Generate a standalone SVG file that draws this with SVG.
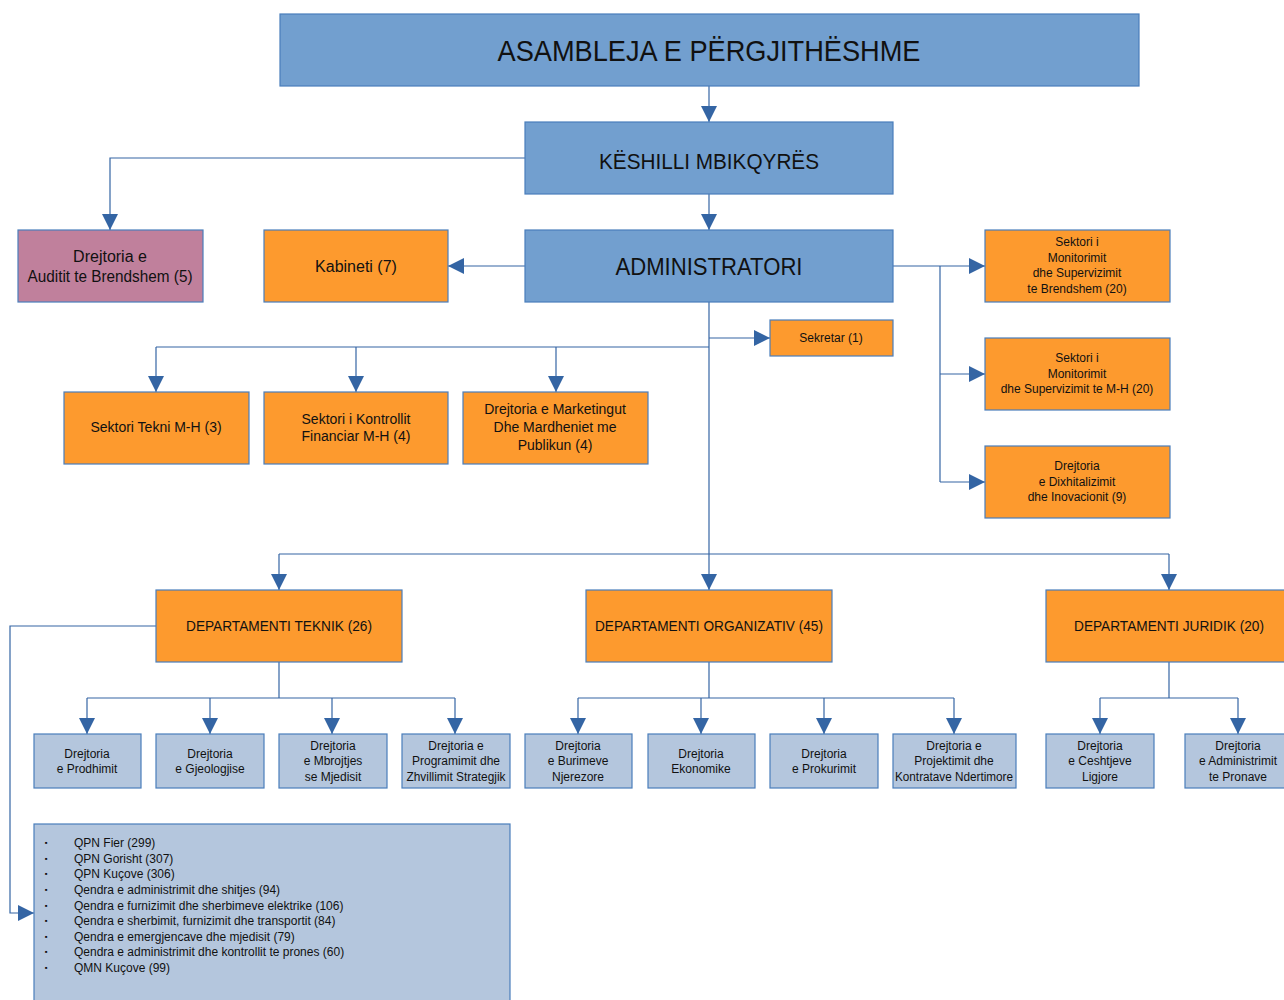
<svg xmlns="http://www.w3.org/2000/svg" width="1284" height="1000" viewBox="0 0 1284 1000">
<defs>
<marker id="ah" markerUnits="userSpaceOnUse" markerWidth="16" markerHeight="16" viewBox="0 0 16 16" refX="16" refY="8" orient="auto">
<path d="M0,0 L16,8 L0,16 Z" fill="#3465a4"/>
</marker>
</defs>
<style>
text{font-family:"Liberation Sans",Arial,sans-serif;fill:#111;text-anchor:middle}
.blue{fill:#729fcf;stroke:#4a7ebb;stroke-width:1.2}
.org{fill:#fd9a2e;stroke:#4a7ebb;stroke-width:1.2}
.pink{fill:#c0809c;stroke:#4a7ebb;stroke-width:1.2}
.lb{fill:#b4c6dd;stroke:#4a7ebb;stroke-width:1.2}
.c line,.c polyline{stroke:#3465a4;stroke-width:1.2;fill:none}
.a{marker-end:url(#ah)}
.t12{font-size:12px}.t14{font-size:14px}.t16{font-size:16px}
.li{font-size:12px;text-anchor:start}
.bu{font-size:4px;text-anchor:start}
</style>
<rect width="1284" height="1000" fill="#fff"/>
<g class="c">
<line class="a" x1="709" y1="86" x2="709" y2="122"/>
<polyline class="a" points="525,158 110,158 110,230"/>
<line class="a" x1="709" y1="194" x2="709" y2="230"/>
<line class="a" x1="525" y1="266" x2="448" y2="266"/>
<line class="a" x1="893" y1="266" x2="985" y2="266"/>
<polyline points="940,266 940,482"/>
<line class="a" x1="940" y1="374" x2="985" y2="374"/>
<line class="a" x1="940" y1="482" x2="985" y2="482"/>
<line class="a" x1="709" y1="302" x2="709" y2="590"/>
<line class="a" x1="709" y1="338" x2="770" y2="338"/>
<polyline points="709,347 156,347"/>
<line class="a" x1="156" y1="347" x2="156" y2="392"/>
<line class="a" x1="356" y1="347" x2="356" y2="392"/>
<line class="a" x1="556" y1="347" x2="556" y2="392"/>
<polyline points="279,554 1169,554"/>
<line class="a" x1="279" y1="554" x2="279" y2="590"/>
<line class="a" x1="1169" y1="554" x2="1169" y2="590"/>
<polyline points="279,662 279,698"/>
<polyline points="87,698 455,698"/>
<line class="a" x1="87" y1="698" x2="87" y2="734"/>
<line class="a" x1="210" y1="698" x2="210" y2="734"/>
<line class="a" x1="332" y1="698" x2="332" y2="734"/>
<line class="a" x1="455" y1="698" x2="455" y2="734"/>
<polyline points="709,662 709,698"/>
<polyline points="578,698 954,698"/>
<line class="a" x1="578" y1="698" x2="578" y2="734"/>
<line class="a" x1="701" y1="698" x2="701" y2="734"/>
<line class="a" x1="824" y1="698" x2="824" y2="734"/>
<line class="a" x1="954" y1="698" x2="954" y2="734"/>
<polyline points="1169,662 1169,698"/>
<polyline points="1100,698 1238,698"/>
<line class="a" x1="1100" y1="698" x2="1100" y2="734"/>
<line class="a" x1="1238" y1="698" x2="1238" y2="734"/>
<polyline class="a" points="156,626 10,626 10,913 34,913"/>
</g>
<g id="asambleja"><rect class="blue" x="280" y="14" width="859" height="72"/><text x="709" y="61" style="font-size:30px" textLength="423" lengthAdjust="spacingAndGlyphs">ASAMBLEJA E PËRGJITHËSHME</text></g>
<g id="keshilli"><rect class="blue" x="525" y="122" width="368" height="72"/><text x="709" y="169" style="font-size:22px" textLength="220" lengthAdjust="spacingAndGlyphs">KËSHILLI  MBIKQYRËS</text></g>
<g id="audit"><rect class="pink" x="18" y="230" width="185" height="72"/><text class="t16" x="110" y="262">Drejtoria e</text><text class="t16" x="110" y="282" textLength="165" lengthAdjust="spacingAndGlyphs">Auditit te Brendshem (5)</text></g>
<g id="kabineti"><rect class="org" x="264" y="230" width="184" height="72"/><text class="t16" x="356" y="272">Kabineti (7)</text></g>
<g id="administratori"><rect class="blue" x="525" y="230" width="368" height="72"/><text x="709" y="275" style="font-size:24px" textLength="187" lengthAdjust="spacingAndGlyphs">ADMINISTRATORI</text></g>
<g id="smsb"><rect class="org" x="985" y="230" width="185" height="72"/><text class="t12" x="1077" y="246">Sektori i</text><text class="t12" x="1077" y="262">Monitorimit</text><text class="t12" x="1077" y="277">dhe Supervizimit</text><text class="t12" x="1077" y="293">te Brendshem (20)</text></g>
<g id="smsmh"><rect class="org" x="985" y="338" width="185" height="72"/><text class="t12" x="1077" y="362">Sektori i</text><text class="t12" x="1077" y="378">Monitorimit</text><text class="t12" x="1077" y="393">dhe Supervizimit te M-H (20)</text></g>
<g id="dixhital"><rect class="org" x="985" y="446" width="185" height="72"/><text class="t12" x="1077" y="470">Drejtoria</text><text class="t12" x="1077" y="486">e Dixhitalizimit</text><text class="t12" x="1077" y="501">dhe Inovacionit (9)</text></g>
<g id="sekretar"><rect class="org" x="770" y="320" width="123" height="36"/><text class="t12" x="831" y="342">Sekretar (1)</text></g>
<g id="tekni"><rect class="org" x="64" y="392" width="185" height="72"/><text class="t14" x="156" y="432">Sektori Tekni M-H (3)</text></g>
<g id="kontroll"><rect class="org" x="264" y="392" width="184" height="72"/><text class="t14" x="356" y="424">Sektori i Kontrollit</text><text class="t14" x="356" y="441">Financiar M-H (4)</text></g>
<g id="marketing"><rect class="org" x="463" y="392" width="185" height="72"/><text class="t14" x="555" y="414">Drejtoria e Marketingut</text><text class="t14" x="555" y="432">Dhe Mardheniet me</text><text class="t14" x="555" y="450">Publikun (4)</text></g>
<g id="dep-teknik"><rect class="org" x="156" y="590" width="246" height="72"/><text class="t14" x="279" y="631" textLength="186" lengthAdjust="spacingAndGlyphs">DEPARTAMENTI TEKNIK (26)</text></g>
<g id="dep-org"><rect class="org" x="586" y="590" width="246" height="72"/><text class="t14" x="709" y="631" textLength="228" lengthAdjust="spacingAndGlyphs">DEPARTAMENTI ORGANIZATIV (45)</text></g>
<g id="dep-jur"><rect class="org" x="1046" y="590" width="242" height="72"/><text class="t14" x="1169" y="631" textLength="190" lengthAdjust="spacingAndGlyphs">DEPARTAMENTI JURIDIK (20)</text></g>
<g id="prodhimit"><rect class="lb" x="34" y="734" width="107" height="54"/><text class="t12" x="87" y="758">Drejtoria</text><text class="t12" x="87" y="773">e Prodhimit</text></g>
<g id="gjeologjise"><rect class="lb" x="156" y="734" width="108" height="54"/><text class="t12" x="210" y="758">Drejtoria</text><text class="t12" x="210" y="773">e Gjeologjise</text></g>
<g id="mbrojtjes"><rect class="lb" x="279" y="734" width="108" height="54"/><text class="t12" x="333" y="750">Drejtoria</text><text class="t12" x="333" y="765">e Mbrojtjes</text><text class="t12" x="333" y="781">se Mjedisit</text></g>
<g id="programimit"><rect class="lb" x="402" y="734" width="108" height="54"/><text class="t12" x="456" y="750">Drejtoria e</text><text class="t12" x="456" y="765">Programimit dhe</text><text class="t12" x="456" y="781" textLength="99" lengthAdjust="spacingAndGlyphs">Zhvillimit Strategjik</text></g>
<g id="burimeve"><rect class="lb" x="525" y="734" width="107" height="54"/><text class="t12" x="578" y="750">Drejtoria</text><text class="t12" x="578" y="765">e Burimeve</text><text class="t12" x="578" y="781">Njerezore</text></g>
<g id="ekonomike"><rect class="lb" x="648" y="734" width="107" height="54"/><text class="t12" x="701" y="758">Drejtoria</text><text class="t12" x="701" y="773">Ekonomike</text></g>
<g id="prokurimit"><rect class="lb" x="770" y="734" width="108" height="54"/><text class="t12" x="824" y="758">Drejtoria</text><text class="t12" x="824" y="773">e Prokurimit</text></g>
<g id="projektimit"><rect class="lb" x="893" y="734" width="123" height="54"/><text class="t12" x="954" y="750">Drejtoria e</text><text class="t12" x="954" y="765">Projektimit dhe</text><text class="t12" x="954" y="781" textLength="118" lengthAdjust="spacingAndGlyphs">Kontratave Ndertimore</text></g>
<g id="ceshtjeve"><rect class="lb" x="1046" y="734" width="108" height="54"/><text class="t12" x="1100" y="750">Drejtoria</text><text class="t12" x="1100" y="765">e Ceshtjeve</text><text class="t12" x="1100" y="781">Ligjore</text></g>
<g id="pronave"><rect class="lb" x="1185" y="734" width="104" height="54"/><text class="t12" x="1238" y="750">Drejtoria</text><text class="t12" x="1238" y="765" textLength="78" lengthAdjust="spacingAndGlyphs">e Administrimit</text><text class="t12" x="1238" y="781">te Pronave</text></g>
<g id="qendrat"><rect class="lb" x="34" y="824" width="476" height="180"/>
<text class="bu" x="45" y="844">■</text><text class="li" x="74" y="847">QPN Fier (299)</text>
<text class="bu" x="45" y="860">■</text><text class="li" x="74" y="863">QPN Gorisht (307)</text>
<text class="bu" x="45" y="875">■</text><text class="li" x="74" y="878">QPN Kuçove (306)</text>
<text class="bu" x="45" y="891">■</text><text class="li" x="74" y="894">Qendra e administrimit dhe shitjes (94)</text>
<text class="bu" x="45" y="907">■</text><text class="li" x="74" y="910">Qendra e furnizimit dhe sherbimeve elektrike (106)</text>
<text class="bu" x="45" y="922">■</text><text class="li" x="74" y="925">Qendra e sherbimit, furnizimit dhe transportit (84)</text>
<text class="bu" x="45" y="938">■</text><text class="li" x="74" y="941">Qendra e emergjencave dhe mjedisit (79)</text>
<text class="bu" x="45" y="953">■</text><text class="li" x="74" y="956">Qendra e administrimit dhe kontrollit te prones (60)</text>
<text class="bu" x="45" y="969">■</text><text class="li" x="74" y="972">QMN Kuçove (99)</text>
</g>
</svg>
